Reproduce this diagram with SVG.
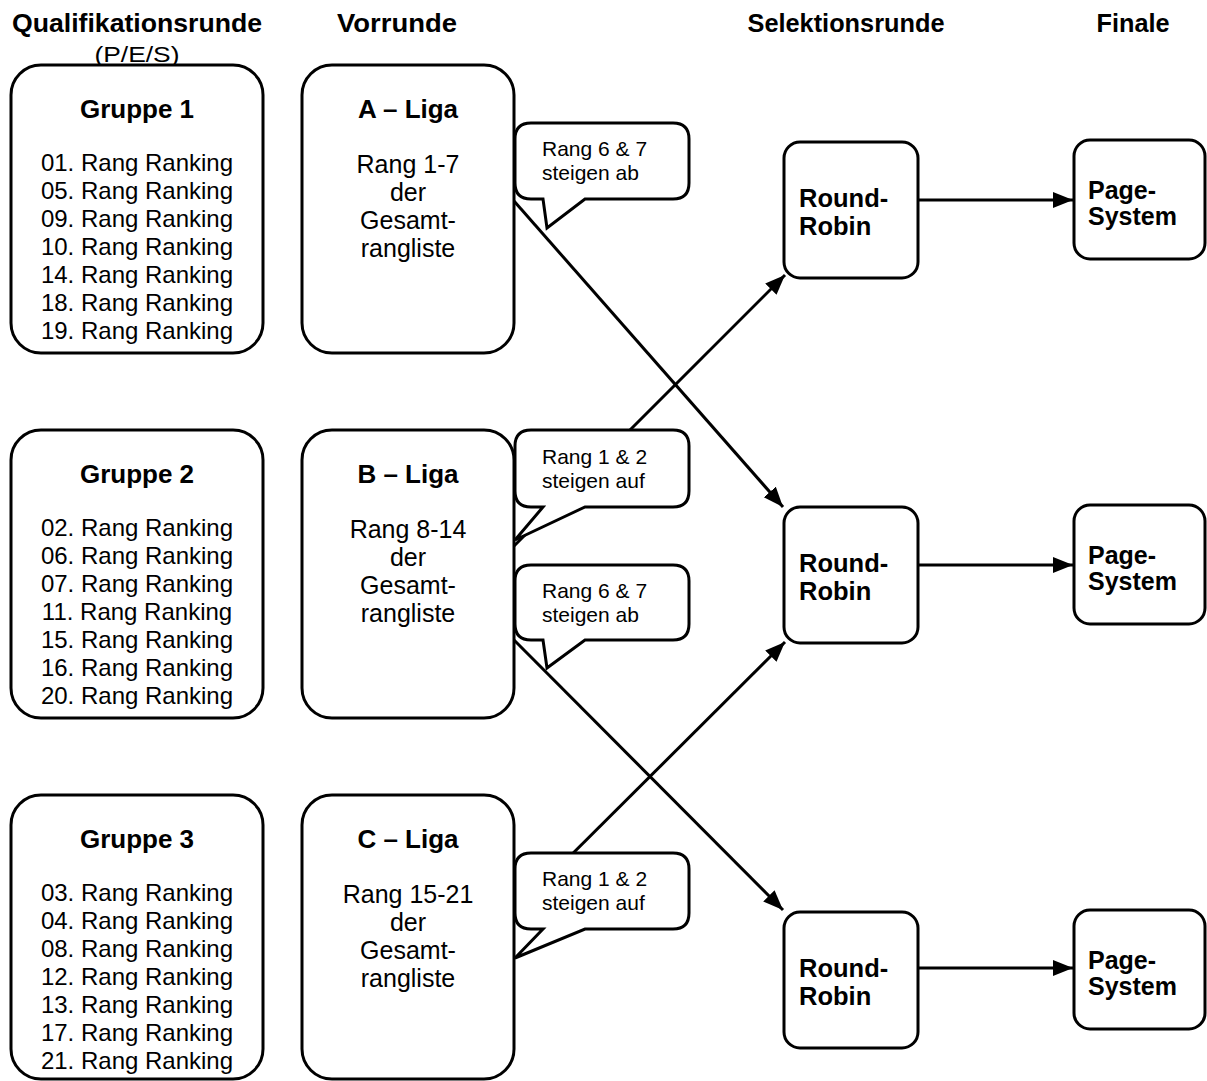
<svg xmlns="http://www.w3.org/2000/svg" width="1207" height="1081" viewBox="0 0 1207 1081">
<defs>
<style>
.box{fill:#fff;stroke:#000;stroke-width:3}
.call{fill:#fff;stroke:#000;stroke-width:3;stroke-linejoin:miter}
.con{stroke:#000;stroke-width:3;fill:none}
text{font-family:"Liberation Sans",Arial,Helvetica,sans-serif;fill:#000}
.h{font-size:26px;font-weight:bold;text-anchor:middle}
.t{font-size:26px;font-weight:bold;text-anchor:middle}
.r{font-size:24px;text-anchor:middle}
.l{font-size:25px;text-anchor:middle}
.c{font-size:21px}
.b{font-size:25.5px;font-weight:bold}
.p{font-size:25px;font-weight:bold}
</style>
<marker id="arr" markerUnits="userSpaceOnUse" markerWidth="22" markerHeight="18" refX="20" refY="8" orient="auto" viewBox="0 0 22 18">
<path d="M0,0 L20,8 L0,16 z" fill="#000"/>
</marker>
</defs>
<rect width="1207" height="1081" fill="#fff"/>

<g id="headers">
<text class="h" x="137" y="32" textLength="250" lengthAdjust="spacingAndGlyphs">Qualifikationsrunde</text>
<text x="137" y="62" style="font-size:22px;text-anchor:middle" textLength="85" lengthAdjust="spacingAndGlyphs">(P/E/S)</text>
<text class="h" x="397" y="32" textLength="120" lengthAdjust="spacingAndGlyphs">Vorrunde</text>
<text class="h" x="846" y="32" textLength="197" lengthAdjust="spacingAndGlyphs">Selektionsrunde</text>
<text class="h" x="1133" y="32" textLength="73" lengthAdjust="spacingAndGlyphs">Finale</text>
</g>

<g id="connectors">
<line class="con" x1="514" y1="201" x2="783" y2="507" marker-end="url(#arr)"/>
<line class="con" x1="514" y1="546" x2="785" y2="275" marker-end="url(#arr)"/>
<line class="con" x1="514" y1="640" x2="783" y2="910" marker-end="url(#arr)"/>
<line class="con" x1="514" y1="912" x2="785" y2="642" marker-end="url(#arr)"/>
<line class="con" x1="919" y1="200" x2="1073" y2="200" marker-end="url(#arr)"/>
<line class="con" x1="919" y1="565" x2="1073" y2="565" marker-end="url(#arr)"/>
<line class="con" x1="919" y1="968" x2="1073" y2="968" marker-end="url(#arr)"/>
</g>

<g id="gruppe1">
<rect class="box" x="11" y="65" width="252" height="288" rx="30"/>
<text class="t" x="137" y="118">Gruppe 1</text>
<text class="r" x="137" y="171">01. Rang Ranking</text>
<text class="r" x="137" y="199">05. Rang Ranking</text>
<text class="r" x="137" y="227">09. Rang Ranking</text>
<text class="r" x="137" y="255">10. Rang Ranking</text>
<text class="r" x="137" y="283">14. Rang Ranking</text>
<text class="r" x="137" y="311">18. Rang Ranking</text>
<text class="r" x="137" y="339">19. Rang Ranking</text>
</g>
<g id="gruppe2">
<rect class="box" x="11" y="430" width="252" height="288" rx="30"/>
<text class="t" x="137" y="483">Gruppe 2</text>
<text class="r" x="137" y="536">02. Rang Ranking</text>
<text class="r" x="137" y="564">06. Rang Ranking</text>
<text class="r" x="137" y="592">07. Rang Ranking</text>
<text class="r" x="137" y="620">11. Rang Ranking</text>
<text class="r" x="137" y="648">15. Rang Ranking</text>
<text class="r" x="137" y="676">16. Rang Ranking</text>
<text class="r" x="137" y="704">20. Rang Ranking</text>
</g>
<g id="gruppe3">
<rect class="box" x="11" y="795" width="252" height="284" rx="30"/>
<text class="t" x="137" y="848">Gruppe 3</text>
<text class="r" x="137" y="901">03. Rang Ranking</text>
<text class="r" x="137" y="929">04. Rang Ranking</text>
<text class="r" x="137" y="957">08. Rang Ranking</text>
<text class="r" x="137" y="985">12. Rang Ranking</text>
<text class="r" x="137" y="1013">13. Rang Ranking</text>
<text class="r" x="137" y="1041">17. Rang Ranking</text>
<text class="r" x="137" y="1069">21. Rang Ranking</text>
</g>

<g id="liga-a">
<rect class="box" x="302" y="65" width="212" height="288" rx="30"/>
<text class="t" x="408" y="118">A – Liga</text>
<text class="l" x="408" y="173">Rang 1-7</text>
<text class="l" x="408" y="201">der</text>
<text class="l" x="408" y="229">Gesamt-</text>
<text class="l" x="408" y="257">rangliste</text>
</g>
<g id="liga-b">
<rect class="box" x="302" y="430" width="212" height="288" rx="30"/>
<text class="t" x="408" y="483">B – Liga</text>
<text class="l" x="408" y="538">Rang 8-14</text>
<text class="l" x="408" y="566">der</text>
<text class="l" x="408" y="594">Gesamt-</text>
<text class="l" x="408" y="622">rangliste</text>
</g>
<g id="liga-c">
<rect class="box" x="302" y="795" width="212" height="284" rx="30"/>
<text class="t" x="408" y="848">C – Liga</text>
<text class="l" x="408" y="903">Rang 15-21</text>
<text class="l" x="408" y="931">der</text>
<text class="l" x="408" y="959">Gesamt-</text>
<text class="l" x="408" y="987">rangliste</text>
</g>

<g id="callout-a-ab">
<path class="call" d="M531,123 H673 Q689,123 689,139 V183 Q689,199 673,199 H585 L547,228 L543,199 H531 Q515,199 515,183 V139 Q515,123 531,123 Z"/>
<text class="c" x="542" y="156">Rang 6 &amp; 7</text>
<text class="c" x="542" y="180">steigen ab</text>
</g>
<g id="callout-b-auf">
<path class="call" d="M531,430 H673 Q689,430 689,446 V491 Q689,507 673,507 H585 L515,540 L543,507 H531 Q515,507 515,491 V446 Q515,430 531,430 Z"/>
<text class="c" x="542" y="464">Rang 1 &amp; 2</text>
<text class="c" x="542" y="488">steigen auf</text>
</g>
<g id="callout-b-ab">
<path class="call" d="M531,565 H673 Q689,565 689,581 V624 Q689,640 673,640 H585 L547,668 L543,640 H531 Q515,640 515,624 V581 Q515,565 531,565 Z"/>
<text class="c" x="542" y="598">Rang 6 &amp; 7</text>
<text class="c" x="542" y="622">steigen ab</text>
</g>
<g id="callout-c-auf">
<path class="call" d="M531,853 H673 Q689,853 689,869 V913 Q689,929 673,929 H585 L515,958 L543,929 H531 Q515,929 515,913 V869 Q515,853 531,853 Z"/>
<text class="c" x="542" y="886">Rang 1 &amp; 2</text>
<text class="c" x="542" y="910">steigen auf</text>
</g>

<g id="rr1">
<rect class="box" x="784" y="142" width="134" height="136" rx="16"/>
<text class="b" x="799" y="207">Round-</text>
<text class="b" x="799" y="235">Robin</text>
</g>
<g id="rr2">
<rect class="box" x="784" y="507" width="134" height="136" rx="16"/>
<text class="b" x="799" y="572">Round-</text>
<text class="b" x="799" y="600">Robin</text>
</g>
<g id="rr3">
<rect class="box" x="784" y="912" width="134" height="136" rx="16"/>
<text class="b" x="799" y="977">Round-</text>
<text class="b" x="799" y="1005">Robin</text>
</g>

<g id="ps1">
<rect class="box" x="1074" y="140" width="131" height="119" rx="16"/>
<text class="p" x="1088" y="199">Page-</text>
<text class="p" x="1088" y="225">System</text>
</g>
<g id="ps2">
<rect class="box" x="1074" y="505" width="131" height="119" rx="16"/>
<text class="p" x="1088" y="564">Page-</text>
<text class="p" x="1088" y="590">System</text>
</g>
<g id="ps3">
<rect class="box" x="1074" y="910" width="131" height="119" rx="16"/>
<text class="p" x="1088" y="969">Page-</text>
<text class="p" x="1088" y="995">System</text>
</g>
</svg>
